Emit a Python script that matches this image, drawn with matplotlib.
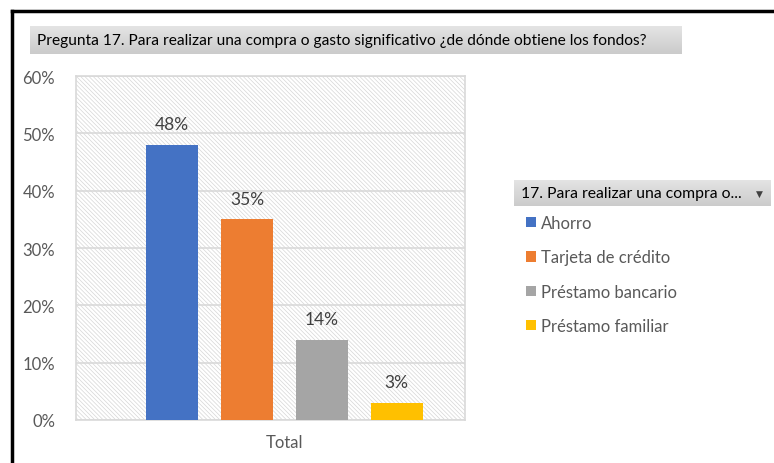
import numpy as np
import matplotlib
matplotlib.use("Agg")
import matplotlib.pyplot as plt
from matplotlib.patches import Rectangle

# datos
categorias = ["Ahorro", "Tarjeta de crédito", "Préstamo bancario", "Préstamo familiar"]
valores = [0.48, 0.35, 0.14, 0.03]
colores = ["#4472c4", "#ed7d31", "#a5a5a5", "#ffc000"]
yticks = [0, 0.1, 0.2, 0.3, 0.4, 0.5, 0.6]
titulo = "Pregunta 17. Para realizar una compra o gasto significativo ¿de dónde obtiene los fondos?"
titulo_leyenda = "17. Para realizar una compra o..."

plt.rcParams["font.family"] = ["Lato", "DejaVu Sans"]
plt.rcParams["hatch.linewidth"] = 0.5

W, H = 774, 464
fig = plt.figure(figsize=(W / 100, H / 100), dpi=100)

def caja(x0, y0, x1, y1):
    # rect en pixeles (origen arriba-izq) -> coords figura
    return [x0 / W, 1 - y1 / H, (x1 - x0) / W, (y1 - y0) / H]

# marco negro (arriba e izquierda)
fig.add_artist(plt.Line2D([12 / W, 12 / W], [0, 1 - 12 / H], color="black", lw=2.5, transform=fig.transFigure))
fig.add_artist(plt.Line2D([12 / W, 1], [1 - 12 / H, 1 - 12 / H], color="black", lw=2.5, transform=fig.transFigure))

# cajas con degradado
grad = np.linspace(0, 1, 50).reshape(-1, 1)
cmap_g = matplotlib.colors.LinearSegmentedColormap.from_list("g", ["#e4e4e4", "#cbcbcb"])
cajas = []
for (x0, y0, x1, y1), txt, fs in [((30, 27, 682, 55), titulo, 11.2),
                                   ((514, 181, 771, 207), titulo_leyenda, 11.3)]:
    bx = fig.add_axes(caja(x0, y0, x1, y1))
    bx.imshow(grad, aspect="auto", cmap=cmap_g, extent=[0, 1, 0, 1])
    bx.set_axis_off()
    bx.text(7 / (x1 - x0), 0.5, txt, va="center", ha="left", fontsize=fs,
            color="black", transform=bx.transAxes)
    cajas.append(bx)
cajas[1].text(0.955, 0.5, "▼", va="center", ha="center", fontsize=6.5,
              color="#404040", family="DejaVu Sans", transform=cajas[1].transAxes)

ax = fig.add_axes(caja(76, 77, 465, 421))
x = np.arange(len(valores))
ax.add_patch(Rectangle((0, 0), 1, 1, transform=ax.transAxes, facecolor="none",
                       edgecolor="#d6d6d6", hatch="\\\\\\\\\\\\\\\\", lw=0, zorder=0))
barras = ax.bar(x, valores, width=0.7, color=colores, zorder=3)
for xi, v in zip(x, valores):
    ax.text(xi, v + 0.022, f"{round(v * 100)}%", ha="center", va="bottom",
            fontsize=12.5, color="#404040", zorder=4)

ax.set_ylim(0, 0.6)
ax.set_xlim(-1.28, 3.91)
ax.set_yticks(yticks)
ax.set_yticklabels([f"{int(t * 100)}%" for t in yticks])
ax.set_xticks([1.5])
ax.set_xticklabels(["Total"])
ax.tick_params(length=0, labelsize=12, labelcolor="#595959", pad=15)
ax.tick_params(axis="x", pad=10)
ax.grid(axis="y", color="#d9d9d9", lw=1.2, zorder=1)
for s in ax.spines.values():
    s.set_color("#d9d9d9")
    s.set_linewidth(1.2)

ax.legend(barras, categorias, loc="upper left", bbox_to_anchor=(526 / W, 1 - 216 / H),
          bbox_transform=fig.transFigure, frameon=False, fontsize=12,
          handlelength=0.6, handleheight=0.6, handletextpad=0.3,
          labelspacing=1.1, labelcolor="#595959", borderaxespad=0, borderpad=0)

fig.savefig("out.png", dpi=100)
